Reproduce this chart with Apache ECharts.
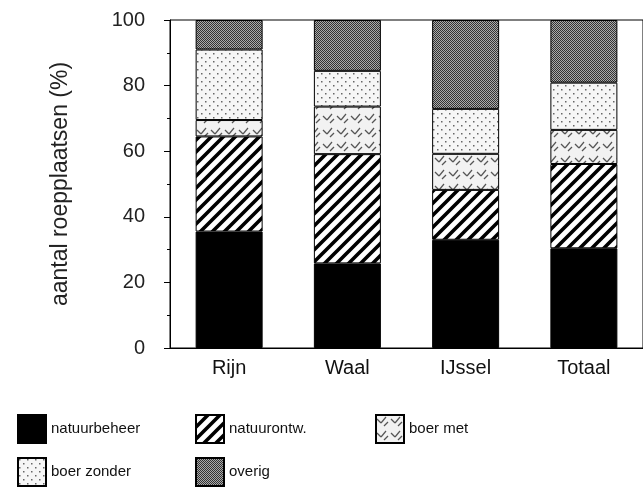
<!DOCTYPE html>
<html>
<head>
<meta charset="utf-8">
<script src="https://cdn.jsdelivr.net/npm/echarts@6/dist/echarts.min.js"></script>
<style>html,body{margin:0;padding:0;background:#fff}#c{width:643px;height:492px}</style>
</head>
<body>
<div id="c"></div>
<script>
const categories = ['Rijn', 'Waal', 'IJssel', 'Totaal'];
const seriesNames = ['natuurbeheer', 'natuurontw.', 'boer met', 'boer zonder', 'overig'];
const natuurbeheer = [35.5, 25.8, 33.0, 30.4];
const natuurontw = [29.0, 33.3, 15.2, 25.7];
const boerMet = [5.0, 14.5, 11.0, 10.4];
const boerZonder = [21.5, 10.9, 13.7, 14.4];
const overig = [9.0, 15.5, 27.1, 19.1];
const yTicks = [0, 20, 40, 60, 80, 100];

function tile(w, h, draw) {
  const c = document.createElement('canvas');
  c.width = w; c.height = h;
  const g = c.getContext('2d');
  draw(g, w, h);
  return { image: c, repeat: 'repeat' };
}
const patSolid = '#000';
const patStripe = tile(12, 12, (g, w, h) => {
  g.fillStyle = '#fff'; g.fillRect(0, 0, w, h);
  g.strokeStyle = '#000'; g.lineWidth = 3.6; g.lineCap = 'square';
  for (let k = -1; k <= 1; k++) {
    g.beginPath(); g.moveTo(k * w, h); g.lineTo(k * w + w, 0); g.stroke();
  }
});
const patWeave = tile(14, 14, (g, w, h) => {
  g.fillStyle = '#f2f2f2'; g.fillRect(0, 0, w, h);
  g.strokeStyle = '#555'; g.lineWidth = 1.2;
  g.beginPath(); g.moveTo(1, 4); g.lineTo(5, 8); g.stroke();
  g.beginPath(); g.moveTo(5, 8); g.lineTo(10, 2); g.stroke();
  g.beginPath(); g.moveTo(8, 11); g.lineTo(12, 7); g.stroke();
});
const patDots = tile(8, 8, (g, w, h) => {
  g.fillStyle = '#f6f6f6'; g.fillRect(0, 0, w, h);
  g.fillStyle = '#666';
  g.fillRect(1, 1, 1.5, 1.5);
  g.fillRect(5, 5, 1.5, 1.5);
});
const patChecker = tile(2, 2, (g, w, h) => {
  g.fillStyle = '#aaa'; g.fillRect(0, 0, w, h);
  g.fillStyle = '#333'; g.fillRect(0, 0, 1, 1); g.fillRect(1, 1, 1, 1);
});
const patterns = [patSolid, patStripe, patWeave, patDots, patChecker];
const values = [natuurbeheer, natuurontw, boerMet, boerZonder, overig];

const chart = echarts.init(document.getElementById('c'), null, { renderer: 'canvas' });
function legendAt(left, data) {
  return {
    left: left, top: 414, height: 80, padding: 0, orient: 'vertical',
    itemWidth: 28, itemHeight: 28, itemGap: 13, icon: 'rect', data: data,
    textStyle: { fontSize: 15, color: '#111', fontFamily: 'Liberation Sans, Arial, sans-serif' }
  };
}
chart.setOption({
  animation: false,
  backgroundColor: '#fff',
  grid: { left: 170, top: 20, right: -7, bottom: 144, show: true, borderColor: '#000', borderWidth: 1 },
  legend: [
    legendAt(17, [seriesNames[0], seriesNames[3]]),
    legendAt(195, [seriesNames[1], seriesNames[4]]),
    legendAt(375, [seriesNames[2]])
  ],
  xAxis: {
    type: 'category', data: categories,
    axisLine: { lineStyle: { color: '#000', width: 1 } },
    axisTick: { show: false },
    axisLabel: { fontSize: 20, color: '#111', margin: 10, fontFamily: 'Liberation Sans, Arial, sans-serif' }
  },
  yAxis: {
    type: 'value', min: 0, max: 100, interval: 20,
    name: 'aantal roepplaatsen (%)', nameLocation: 'middle', nameGap: 98, nameRotate: 90,
    nameTextStyle: { fontSize: 23, color: '#222', fontFamily: 'Liberation Sans, Arial, sans-serif' },
    axisLine: { show: true, lineStyle: { color: '#000', width: 1 } },
    axisTick: { show: true, inside: false, length: 6, lineStyle: { color: '#000' } },
    minorTick: { show: true, splitNumber: 2, length: 3, lineStyle: { color: '#000' } },
    splitLine: { show: false },
    axisLabel: { fontSize: 20, color: '#222', margin: 25, fontFamily: 'Liberation Sans, Arial, sans-serif',
      formatter: v => yTicks.includes(v) ? String(v) : '' }
  },
  series: seriesNames.map((name, i) => ({
    name, type: 'bar', stack: 'total', barWidth: 67,
    data: values[i],
    itemStyle: { color: patterns[i], borderColor: '#000', borderWidth: 1 }
  }))
});
</script>
</body>
</html>
